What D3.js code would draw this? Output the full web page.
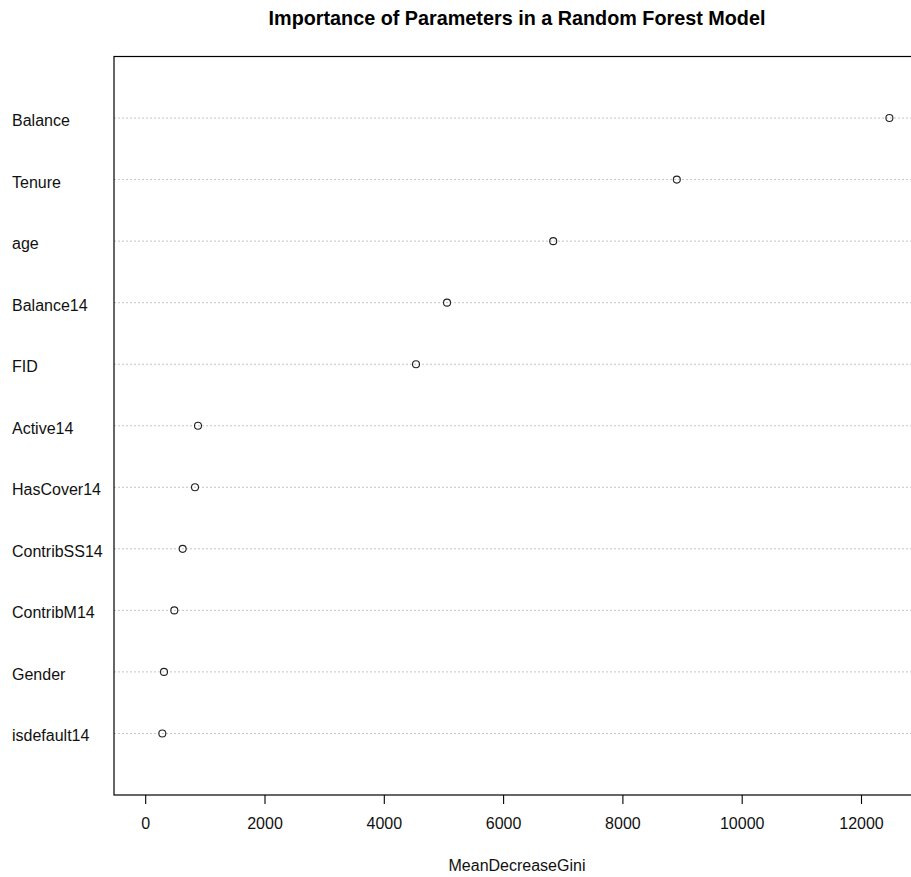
<!DOCTYPE html>
<html>
<head>
<meta charset="utf-8">
<script src="https://cdn.jsdelivr.net/npm/d3@7"></script>
<style>
  html, body { margin: 0; padding: 0; background: #fff; }
  text { font-family: "Liberation Sans", Arial, sans-serif; }
</style>
</head>
<body>
<svg id="chart" width="911" height="877"></svg>
<script>
const categories = ["Balance", "Tenure", "age", "Balance14", "FID", "Active14", "HasCover14", "ContribSS14", "ContribM14", "Gender", "isdefault14"];
const values = [12476, 8912, 6840, 5060, 4540, 885, 835, 628, 488, 315, 287];
const xTicks = [0, 2000, 4000, 6000, 8000, 10000, 12000];
const titleText = "Importance of Parameters in a Random Forest Model";
const xLabel = "MeanDecreaseGini";

(function () {
const svg = d3.select("#chart");
const pLeft = 114, pRight = 920, pTop = 56.5, pBottom = 795;

const x = d3.scaleLinear().domain([-523, 12989]).range([pLeft, pRight]);
const n = categories.length;
const y = d3.scaleLinear().domain([0, n + 1]).range([pBottom, pTop]);
const rowPos = (i) => y(n - i);

// dotted guide lines
svg.append("g").selectAll("line")
  .data(categories)
  .join("line")
  .attr("x1", pLeft).attr("x2", pRight)
  .attr("y1", (d, i) => rowPos(i)).attr("y2", (d, i) => rowPos(i))
  .attr("stroke", "#c4c4c4").attr("stroke-width", 1)
  .attr("stroke-dasharray", "2,2");

// box
svg.append("rect")
  .attr("x", pLeft).attr("y", pTop)
  .attr("width", pRight - pLeft).attr("height", pBottom - pTop)
  .attr("fill", "none").attr("stroke", "#000").attr("stroke-width", 1.2);

// points
svg.append("g").selectAll("circle")
  .data(values)
  .join("circle")
  .attr("cx", d => x(d))
  .attr("cy", (d, i) => rowPos(i))
  .attr("r", 3.5)
  .attr("fill", "none").attr("stroke", "#222").attr("stroke-width", 1.1);

// category labels
svg.append("g").selectAll("text")
  .data(categories)
  .join("text")
  .attr("x", 12)
  .attr("y", (d, i) => rowPos(i))
  .attr("dy", "0.5em")
  .attr("font-size", 16)
  .attr("fill", "#111")
  .text(d => d);

// x axis
const axis = d3.axisBottom(x).tickValues(xTicks).tickSize(9).tickPadding(14).tickFormat(d3.format("d"));
const ax = svg.append("g").attr("transform", `translate(0,${pBottom})`).call(axis);
ax.select(".domain").remove();
ax.selectAll(".tick line").attr("stroke", "#000").attr("stroke-width", 1.1);
ax.selectAll(".tick text").attr("font-size", 16).attr("fill", "#111")
  .attr("font-family", "'Liberation Sans', Arial, sans-serif");

// title
svg.append("text")
  .attr("x", (pLeft + pRight) / 2).attr("y", 25)
  .attr("text-anchor", "middle")
  .attr("font-size", 19.8).attr("font-weight", "bold")
  .attr("fill", "#000")
  .text(titleText);

// x label
svg.append("text")
  .attr("x", (pLeft + pRight) / 2).attr("y", 871)
  .attr("text-anchor", "middle")
  .attr("font-size", 16).attr("fill", "#111")
  .text(xLabel);
})();
</script>
</body>
</html>
